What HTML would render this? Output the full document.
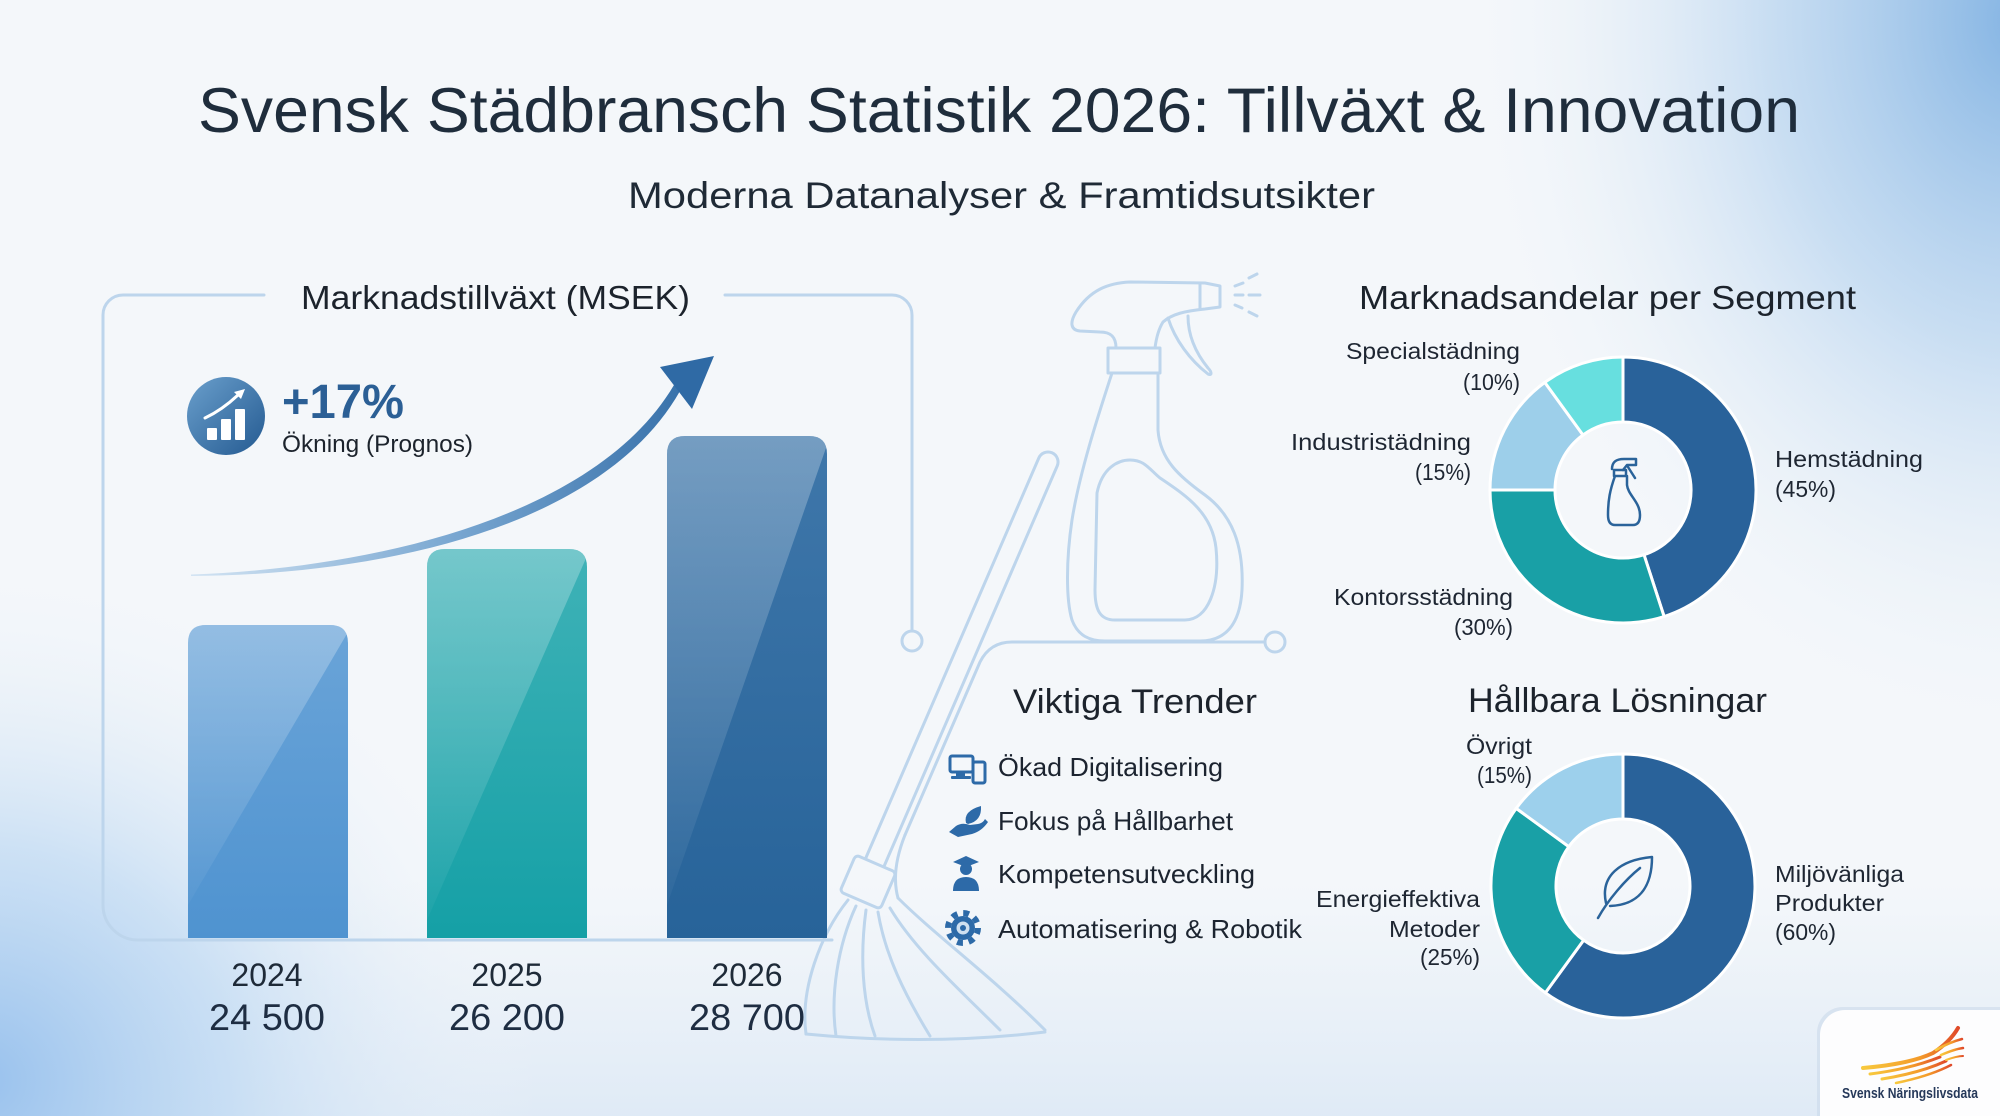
<!DOCTYPE html>
<html><head><meta charset="utf-8">
<style>
html,body{margin:0;padding:0;width:2000px;height:1116px;overflow:hidden;background:#f3f6fa;}
svg{display:block;}
text{font-family:"Liberation Sans","DejaVu Sans",sans-serif;}
</style></head>
<body>
<svg width="2000" height="1116" viewBox="0 0 2000 1116" xmlns="http://www.w3.org/2000/svg">
<defs>
  <radialGradient id="bgTR" gradientUnits="userSpaceOnUse" cx="2020" cy="20" r="560" gradientTransform="translate(2020 20) scale(1 1.3) translate(-2020 -20)">
    <stop offset="0" stop-color="#84b4e3" stop-opacity="1"/>
    <stop offset="0.45" stop-color="#b6d3ef" stop-opacity="0.7"/>
    <stop offset="1" stop-color="#f3f6fa" stop-opacity="0"/>
  </radialGradient>
  <radialGradient id="bgBL" gradientUnits="userSpaceOnUse" cx="-20" cy="1080" r="560" gradientTransform="translate(-20 1080) scale(1 0.93) translate(20 -1080)">
    <stop offset="0" stop-color="#98c1ed" stop-opacity="1"/>
    <stop offset="0.45" stop-color="#c0daf3" stop-opacity="0.75"/>
    <stop offset="1" stop-color="#f3f6fa" stop-opacity="0"/>
  </radialGradient>
  <linearGradient id="bgBot" x1="0" y1="0" x2="0" y2="1">
    <stop offset="0" stop-color="#dfeaf6" stop-opacity="0"/>
    <stop offset="1" stop-color="#dae7f5" stop-opacity="0.8"/>
  </linearGradient>
  <linearGradient id="sep" x1="0" y1="0" x2="1" y2="0">
    <stop offset="0" stop-color="#8fb6dc" stop-opacity="0"/>
    <stop offset="0.5" stop-color="#4a86c0" stop-opacity="1"/>
    <stop offset="1" stop-color="#8fb6dc" stop-opacity="0"/>
  </linearGradient>
  <linearGradient id="arrowG" x1="191" y1="0" x2="714" y2="0" gradientUnits="userSpaceOnUse">
    <stop offset="0" stop-color="#d3e4f3"/>
    <stop offset="0.5" stop-color="#79a7d1"/>
    <stop offset="1" stop-color="#2f6aa5"/>
  </linearGradient>
  <linearGradient id="iconG" x1="0" y1="0" x2="1" y2="1">
    <stop offset="0" stop-color="#6a9fcc"/>
    <stop offset="1" stop-color="#245a91"/>
  </linearGradient>
  <linearGradient id="b1" x1="0" y1="0" x2="0" y2="1">
    <stop offset="0" stop-color="#6aa4d8"/>
    <stop offset="1" stop-color="#4f93d0"/>
  </linearGradient>
  <linearGradient id="b2" x1="0" y1="0" x2="0" y2="1">
    <stop offset="0" stop-color="#3fb2b7"/>
    <stop offset="1" stop-color="#15a0a6"/>
  </linearGradient>
  <linearGradient id="b3" x1="0" y1="0" x2="0" y2="1">
    <stop offset="0" stop-color="#3f77aa"/>
    <stop offset="1" stop-color="#276399"/>
  </linearGradient>
  <linearGradient id="ov" x1="0" y1="0" x2="0" y2="1">
    <stop offset="0" stop-color="#ffffff" stop-opacity="0.28"/>
    <stop offset="1" stop-color="#ffffff" stop-opacity="0.03"/>
  </linearGradient>
  <linearGradient id="wing" x1="0" y1="0" x2="1" y2="0">
    <stop offset="0" stop-color="#f8c93e"/>
    <stop offset="0.6" stop-color="#f39a2a"/>
    <stop offset="1" stop-color="#e04a2a"/>
  </linearGradient>
</defs>

<!-- background -->
<rect width="2000" height="1116" fill="#f4f7fa"/>
<rect x="0" y="880" width="2000" height="236" fill="url(#bgBot)"/>
<rect width="2000" height="1116" fill="url(#bgTR)"/>
<rect width="2000" height="1116" fill="url(#bgBL)"/>

<!-- title -->
<text x="198" y="132" font-size="63" fill="#1f2d3c" textLength="1602" lengthAdjust="spacingAndGlyphs">Svensk Städbransch Statistik 2026: Tillväxt &amp; Innovation</text>
<line x1="701" y1="158" x2="1301" y2="158" stroke="url(#sep)" stroke-width="3"/>
<text x="628" y="208" font-size="37" fill="#1f2a36" textLength="747" lengthAdjust="spacingAndGlyphs">Moderna Datanalyser &amp; Framtidsutsikter</text>

<!-- decorative light lines -->
<g fill="none" stroke="#bdd5ec" stroke-width="3" stroke-linecap="round" stroke-linejoin="round">
  <path d="M264,295 H123 A20,20 0 0 0 103,315 V905 A35,35 0 0 0 138,940 H832"/>
  <path d="M725,295 H892 A20,20 0 0 1 912,315 V631"/>
  <circle cx="912" cy="641" r="10"/>
  <path d="M1265,642 H1012 Q990,642 980,662 L905,835"/>
  <circle cx="1275" cy="642" r="10"/>
  <path d="M1116,348 C1116,336 1110,332 1100,332 L1080,331 C1070,330 1070,322 1076,312 C1090,290 1108,283 1130,282 L1205,283 L1220,286 L1220,307 L1205,309 C1185,311 1172,314 1163,322 C1158,330 1156,340 1155,348"/>
  <path d="M1200,283 V309"/>
  <rect x="1108" y="348" width="52" height="25"/>
  <path d="M1168,318 C1175,340 1190,360 1208,374 C1212,376 1212,372 1208,368 C1195,352 1188,335 1188,316"/>
  <path d="M1112,373 C1100,410 1080,470 1072,520 C1066,560 1066,600 1072,620 C1078,636 1090,641 1105,641 L1200,641 C1225,641 1240,625 1242,590 C1244,545 1232,515 1205,495 C1180,477 1160,460 1158,430 L1158,373"/>
  <path d="M1097,493 C1102,468 1118,460 1130,460 C1145,460 1150,470 1160,478 C1185,495 1212,512 1216,548 C1220,588 1208,620 1185,620 L1115,620 C1100,620 1095,610 1095,590 Z"/>
  <path d="M1235,286 L1243,283 M1249,278 L1257,274 M1235,295 L1243,295 M1249,295 L1260,295 M1235,305 L1242,308 M1249,312 L1257,316"/>
  <path d="M865.8,858 L1038.8,458 A10,10 0 0 1 1057.2,466 L884.2,866"/>
  <rect x="846" y="862" width="44" height="40" rx="4" transform="rotate(23.4 868 882)"/>
  <path d="M848,900 C820,935 800,990 806,1034"/>
  <path d="M856,906 C838,945 830,995 836,1036"/>
  <path d="M866,910 C860,955 862,1000 875,1036"/>
  <path d="M878,912 C885,955 905,995 930,1036"/>
  <path d="M890,908 C915,950 960,990 1000,1030"/>
  <path d="M898,898 C935,935 990,975 1045,1030"/>
  <path d="M806,1034 Q930,1046 1045,1032"/>
  <path d="M905,835 C895,860 893,880 898,898"/>
</g>

<!-- left panel heading -->
<text x="301" y="309" font-size="33" fill="#1c232c" textLength="389" lengthAdjust="spacingAndGlyphs">Marknadstillväxt (MSEK)</text>

<!-- growth arrow -->
<path d="M191,574.5 C380,568 598,514 674,385 L680,391 C603,527 381,575 191,576 Z" fill="url(#arrowG)"/>
<path d="M714,356 L660,367 L676,388 L692,409 Z" fill="#2f6aa5"/>

<!-- icon circle -->
<circle cx="226" cy="416" r="39" fill="url(#iconG)"/>
<g fill="#ffffff">
  <rect x="207" y="428" width="10" height="12" rx="1"/>
  <rect x="221" y="419" width="10" height="21" rx="1"/>
  <rect x="235" y="409" width="10" height="31" rx="1"/>
</g>
<path d="M205,418 Q222,410 238,395" fill="none" stroke="#fff" stroke-width="3" stroke-linecap="round"/>
<path d="M245,389 L234,392 L241,399 Z" fill="#fff"/>

<text x="282" y="418" font-size="48" font-weight="bold" fill="#2b5f95" textLength="122" lengthAdjust="spacingAndGlyphs">+17%</text>
<text x="282" y="452" font-size="24" fill="#1c232c" textLength="191" lengthAdjust="spacingAndGlyphs">Ökning (Prognos)</text>

<!-- bars -->
<defs>
  <clipPath id="c1"><path d="M188,938 V643 Q188,625 206,625 H330 Q348,625 348,643 V938 Z"/></clipPath>
  <clipPath id="c2"><path d="M427,938 V567 Q427,549 445,549 H569 Q587,549 587,567 V938 Z"/></clipPath>
  <clipPath id="c3"><path d="M667,938 V454 Q667,436 685,436 H809 Q827,436 827,454 V938 Z"/></clipPath>
</defs>
<g clip-path="url(#c1)">
  <rect x="188" y="625" width="160" height="313" fill="url(#b1)"/>
  <polygon points="188,625 348,625 348,632 188,905" fill="url(#ov)"/>
</g>
<g clip-path="url(#c2)">
  <rect x="427" y="549" width="160" height="389" fill="url(#b2)"/>
  <polygon points="427,549 587,549 587,556 427,920" fill="url(#ov)"/>
</g>
<g clip-path="url(#c3)">
  <rect x="667" y="436" width="160" height="502" fill="url(#b3)"/>
  <polygon points="667,436 827,436 827,445 667,905" fill="url(#ov)"/>
</g>

<!-- bar labels -->
<g fill="#1e2a38" text-anchor="middle">
  <text x="267" y="986" font-size="32">2024</text>
  <text x="507" y="986" font-size="32">2025</text>
  <text x="747" y="986" font-size="32">2026</text>
</g>
<g fill="#1e2d42" text-anchor="middle" font-size="37">
  <text x="267" y="1030" textLength="116" lengthAdjust="spacingAndGlyphs">24 500</text>
  <text x="507" y="1030" textLength="116" lengthAdjust="spacingAndGlyphs">26 200</text>
  <text x="747" y="1030" textLength="116" lengthAdjust="spacingAndGlyphs">28 700</text>
</g>

<!-- Marknadsandelar donut -->
<text x="1359" y="309" font-size="33" fill="#1c232c" textLength="497" lengthAdjust="spacingAndGlyphs">Marknadsandelar per Segment</text>
<g stroke="#ffffff" stroke-width="3" stroke-linejoin="round">
  <path d="M1623,357 A133,133 0 0 1 1664.1,616.5 L1644.0,554.7 A68,68 0 0 0 1623,422 Z" fill="#29629a"/>
  <path d="M1664.1,616.5 A133,133 0 0 1 1490,490 L1555,490 A68,68 0 0 0 1644.0,554.7 Z" fill="#19a0a6"/>
  <path d="M1490,490 A133,133 0 0 1 1544.8,382.4 L1583.0,435.0 A68,68 0 0 0 1555,490 Z" fill="#9dcfea"/>
  <path d="M1544.8,382.4 A133,133 0 0 1 1623,357 L1623,422 A68,68 0 0 0 1583.0,435.0 Z" fill="#67dfdf"/>
</g>
<g fill="none" stroke="#2a639a" stroke-width="2.5" stroke-linejoin="round" stroke-linecap="round">
  <path d="M1612,469 C1612,462 1616,459 1624,459 H1636 V465 H1627 L1623,470"/>
  <path d="M1628,467 L1635,478"/>
  <rect x="1614" y="470" width="12" height="6"/>
  <path d="M1615,476 C1610,490 1608,500 1608,515 Q1608,525 1615,525 H1633 Q1640,525 1640,515 C1640,502 1628,495 1627,485 V476"/>
</g>
<g font-size="23" fill="#1e2632">
  <text x="1520" y="359" text-anchor="end" textLength="174" lengthAdjust="spacingAndGlyphs">Specialstädning</text>
  <text x="1520" y="390" text-anchor="end" textLength="57" lengthAdjust="spacingAndGlyphs">(10%)</text>
  <text x="1471" y="450" text-anchor="end" textLength="180" lengthAdjust="spacingAndGlyphs">Industristädning</text>
  <text x="1471" y="480" text-anchor="end" textLength="56" lengthAdjust="spacingAndGlyphs">(15%)</text>
  <text x="1775" y="467" textLength="148" lengthAdjust="spacingAndGlyphs">Hemstädning</text>
  <text x="1775" y="497" textLength="61" lengthAdjust="spacingAndGlyphs">(45%)</text>
  <text x="1513" y="605" text-anchor="end" textLength="179" lengthAdjust="spacingAndGlyphs">Kontorsstädning</text>
  <text x="1513" y="635" text-anchor="end" textLength="59" lengthAdjust="spacingAndGlyphs">(30%)</text>
</g>

<!-- Viktiga Trender -->
<text x="1013" y="713" font-size="34" fill="#1c232c" textLength="244" lengthAdjust="spacingAndGlyphs">Viktiga Trender</text>
<g fill="#1c2430" font-size="26">
  <text x="998" y="776" textLength="225" lengthAdjust="spacingAndGlyphs">Ökad Digitalisering</text>
  <text x="998" y="830" textLength="235" lengthAdjust="spacingAndGlyphs">Fokus på Hållbarhet</text>
  <text x="998" y="883" textLength="257" lengthAdjust="spacingAndGlyphs">Kompetensutveckling</text>
  <text x="998" y="938" textLength="304" lengthAdjust="spacingAndGlyphs">Automatisering &amp; Robotik</text>
</g>
<g fill="#2d6aa8" stroke="none">
  <rect x="950" y="756" width="23" height="16" rx="2" fill="none" stroke="#2d6aa8" stroke-width="3"/>
  <rect x="956" y="772" width="9" height="4"/>
  <rect x="951" y="776" width="20" height="3" rx="1"/>
  <rect x="973" y="762" width="12" height="21" rx="2" fill="#f3f6fa" stroke="#2d6aa8" stroke-width="3"/>
  <path d="M949,832 L956,826 Q962,822 970,825 L978,824 Q983,823 985,819 L988,822 Q982,831 972,834 L958,837 Z"/>
  <path d="M966,823 Q963,811 981,806 Q982,821 968,824 Z"/>
  <polygon points="953,862 966,856 979,862 966,867"/>
  <circle cx="966" cy="869" r="6"/>
  <path d="M953,891 Q953,877 966,877 Q979,877 979,891 Z"/>
  <circle cx="963" cy="928" r="15" fill="none" stroke="#2d6aa8" stroke-width="6" stroke-dasharray="5.9 5.9"/>
  <circle cx="963" cy="928" r="12"/>
  <circle cx="963" cy="928" r="6.5" fill="#cfe0f0"/>
  <circle cx="963" cy="928" r="3" fill="#2d6aa8"/>
</g>

<!-- Hållbara Lösningar donut -->
<text x="1468" y="712" font-size="34" fill="#1c232c" textLength="299" lengthAdjust="spacingAndGlyphs">Hållbara Lösningar</text>
<g stroke="#ffffff" stroke-width="3" stroke-linejoin="round">
  <path d="M1623,754 A132,132 0 1 1 1545.4,992.8 L1583.6,940.2 A67,67 0 1 0 1623,819 Z" fill="#29629a"/>
  <path d="M1545.4,992.8 A132,132 0 0 1 1516.2,808.4 L1568.8,846.6 A67,67 0 0 0 1583.6,940.2 Z" fill="#19a0a6"/>
  <path d="M1516.2,808.4 A132,132 0 0 1 1623,754 L1623,819 A67,67 0 0 0 1568.8,846.6 Z" fill="#9dd0ec"/>
</g>
<g fill="none" stroke="#2a639a" stroke-width="2.5" stroke-linecap="round" stroke-linejoin="round">
  <path d="M1606,903 C1600,876 1620,860 1652,857 C1652,888 1638,905 1610,906"/>
  <path d="M1598,918 C1608,900 1625,880 1640,868"/>
</g>
<g font-size="23" fill="#1e2632">
  <text x="1532" y="754" text-anchor="end" textLength="66" lengthAdjust="spacingAndGlyphs">Övrigt</text>
  <text x="1532" y="783" text-anchor="end" textLength="55" lengthAdjust="spacingAndGlyphs">(15%)</text>
  <text x="1480" y="907" text-anchor="end" textLength="164" lengthAdjust="spacingAndGlyphs">Energieffektiva</text>
  <text x="1480" y="937" text-anchor="end" textLength="91" lengthAdjust="spacingAndGlyphs">Metoder</text>
  <text x="1480" y="965" text-anchor="end" textLength="60" lengthAdjust="spacingAndGlyphs">(25%)</text>
  <text x="1775" y="882" textLength="129" lengthAdjust="spacingAndGlyphs">Miljövänliga</text>
  <text x="1775" y="911" textLength="109" lengthAdjust="spacingAndGlyphs">Produkter</text>
  <text x="1775" y="940" textLength="61" lengthAdjust="spacingAndGlyphs">(60%)</text>
</g>

<!-- logo box -->
<path d="M1817,1116 V1033 A26,26 0 0 1 1843,1007 H2000 V1116 Z" fill="#c6d6e8" opacity="0.5"/>
<path d="M1820,1116 V1035 A25,25 0 0 1 1845,1010 H2000 V1116 Z" fill="#fdfdfe"/>
<g fill="none" stroke="url(#wing)" stroke-linecap="round">
  <path d="M1863,1068 Q1910,1064 1933,1053 Q1950,1042 1958,1028" stroke-width="4"/>
  <path d="M1870,1074 Q1910,1069 1940,1057" stroke-width="3"/>
  <path d="M1882,1079 Q1920,1073 1946,1061" stroke-width="3"/>
  <path d="M1896,1083 Q1930,1076 1951,1065" stroke-width="2.5"/>
  <path d="M1936,1050 Q1950,1042 1962,1039" stroke-width="2.5"/>
  <path d="M1941,1055 Q1955,1049 1963,1048" stroke-width="2.5"/>
  <path d="M1946,1060 Q1957,1056 1963,1056" stroke-width="2"/>
</g>
<text x="1842" y="1098" font-size="14.5" font-weight="bold" fill="#26395a" textLength="136" lengthAdjust="spacingAndGlyphs">Svensk Näringslivsdata</text>
</svg>
</body></html>
